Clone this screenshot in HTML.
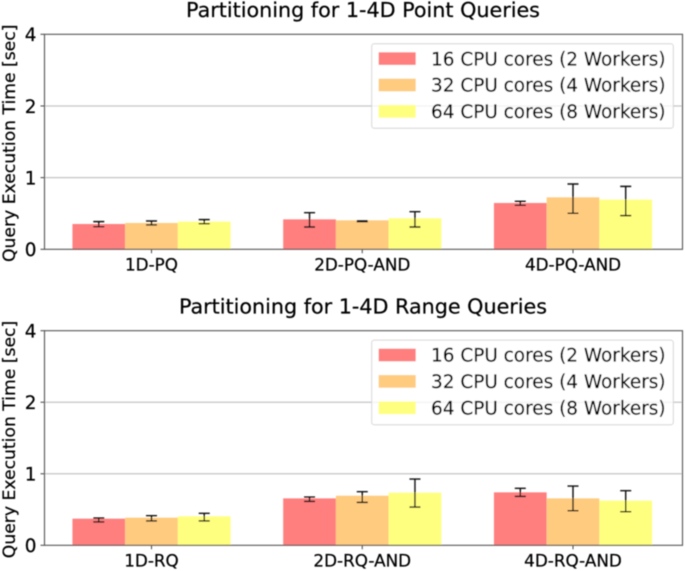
<!DOCTYPE html>
<html lang="en">
<head>
<meta charset="utf-8">
<title>Partitioning for 1-4D Queries</title>
<style>
html,body{margin:0;padding:0;background:#fff;width:685px;height:571px;overflow:hidden}
svg{display:block}
text{font-family:"DejaVu Sans","Liberation Sans",sans-serif;fill:#000;stroke:#000;stroke-width:.22}
</style>
</head>
<body>
<svg id="chart" xmlns="http://www.w3.org/2000/svg" width="685" height="571" viewBox="0 0 685 571">
<defs><filter id="soft" x="-2%" y="-2%" width="104%" height="104%"><feGaussianBlur stdDeviation="0.45"/></filter></defs>
<g id="root" filter="url(#soft)"></g>
</svg>
<script>
const seriesLabels = ["16 CPU cores (2 Workers)", "32 CPU cores (4 Workers)", "64 CPU cores (8 Workers)"];
const yTicks = [0, 1, 2, 4];

const pointTitle = "Partitioning for 1-4D Point Queries";
const pointCategories = ["1D-PQ", "2D-PQ-AND", "4D-PQ-AND"];
const pointValues16 = [0.353, 0.418, 0.646];
const pointValues32 = [0.367, 0.404, 0.725];
const pointValues64 = [0.386, 0.432, 0.693];
const pointLow16 = [0.316, 0.311, 0.614];
const pointLow32 = [0.340, 0.385, 0.502];
const pointLow64 = [0.358, 0.311, 0.470];
const pointHigh16 = [0.386, 0.511, 0.669];
const pointHigh32 = [0.395, 0.395, 0.911];
const pointHigh64 = [0.414, 0.525, 0.878];

const rangeTitle = "Partitioning for 1-4D Range Queries";
const rangeCategories = ["1D-RQ", "2D-RQ-AND", "4D-RQ-AND"];
const rangeValues16 = [0.372, 0.656, 0.740];
const rangeValues32 = [0.386, 0.693, 0.656];
const rangeValues64 = [0.405, 0.735, 0.624];
const rangeLow16 = [0.326, 0.614, 0.684];
const rangeLow32 = [0.340, 0.600, 0.484];
const rangeLow64 = [0.340, 0.535, 0.470];
const rangeHigh16 = [0.381, 0.674, 0.796];
const rangeHigh32 = [0.414, 0.750, 0.828];
const rangeHigh64 = [0.447, 0.926, 0.763];

const NS = "http://www.w3.org/2000/svg";
const root = document.getElementById("root");
const colors = ["#ff7f7f", "#ffcb7f", "#ffff7f"];
const seriesKeys = ["16-cores", "32-cores", "64-cores"];
const left = 44.5, right = 682.5;
const firstCenter = 151.5, groupStep = 210.75, barW = 52.7;

function make(parent, tag, attrs, text) {
  const el = document.createElementNS(NS, tag);
  for (const k in attrs) el.setAttribute(k, attrs[k]);
  if (text !== undefined) el.textContent = text;
  parent.appendChild(el);
  return el;
}

function drawPanel(p) {
  const unit = (p.bottom - p.top) / 3;
  const y = v => v <= 1 ? p.bottom - v * unit : p.bottom - (1 + Math.log2(v)) * unit;
  const x = (g, s) => firstCenter + g * groupStep + (s - 1) * barW;

  const panel = make(root, "g", {});
  
  

  const title = make(panel, "text", {x: p.titleX, y: p.titleY, "text-anchor": "middle", "font-size": 20.7}, p.title);
  
  

  yTicks.forEach(t => {
    if (t === 1 || t === 2) {
      const grid = make(panel, "line", {x1: left, x2: right, y1: y(t), y2: y(t), stroke: "#c4c4c4", "stroke-width": 1.2});
      
      
    }
    const tick = make(panel, "line", {x1: left - 4, x2: left, y1: y(t), y2: y(t), stroke: "#444", "stroke-width": 1});
    
    
    const label = make(panel, "text", {x: 36.5, y: y(t) + 6.8, "text-anchor": "end", "font-size": 18.4}, String(t));
    
    
  });

  p.categories.forEach((c, g) => {
    p.values.forEach((vals, s) => {
      const bar = make(panel, "rect", {x: x(g, s) - barW / 2, y: y(vals[g]), width: barW, height: p.bottom - y(vals[g]), fill: colors[s]});
      
      
    });
  });

  p.categories.forEach((c, g) => {
    p.values.forEach((vals, s) => {
      const cx = x(g, s), lo = y(p.low[s][g]), hi = y(p.high[s][g]);
      const err = make(panel, "path", {
        d: "M" + (cx - 5.5) + " " + hi + "H" + (cx + 5.5) + "M" + cx + " " + hi + "V" + lo + "M" + (cx - 5.5) + " " + lo + "H" + (cx + 5.5),
        fill: "none", stroke: "#111", "stroke-width": 1.4
      });
      
      
    });
    const cx = firstCenter + g * groupStep;
    const tick = make(panel, "line", {x1: cx, x2: cx, y1: p.bottom, y2: p.bottom + 4, stroke: "#444", "stroke-width": 1});
    
    
    const label = make(panel, "text", {x: cx, y: p.bottom + 21.4, "text-anchor": "middle", "font-size": 16.8}, c);
    
    
  });

  const frame = make(panel, "rect", {x: left, y: p.top, width: right - left, height: p.bottom - p.top, fill: "none", stroke: "#555", "stroke-width": 1.1});
  
  

  const ylab = make(panel, "text", {transform: "translate(15 " + ((p.top + p.bottom) / 2 + 1.5) + ") rotate(-90)", "text-anchor": "middle", "font-size": 17.2}, "Query Execution Time [sec]");
  
  

  const legend = make(panel, "g", {});
  
  
  const box = make(legend, "rect", {x: 371.7, y: p.top + 9.4, width: 301.6, height: 84.6, rx: 2.5, fill: "#fff", "fill-opacity": 0.8, stroke: "#d6d6d6", "stroke-width": 1});
  
  
  seriesLabels.forEach((name, s) => {
    const py = p.top + 18 + s * 26.4;
    const swatch = make(legend, "rect", {x: 378.7, y: py, width: 37, height: 12.6, fill: colors[s]});
    
    
    const txt = make(legend, "text", {x: 431, y: py + 13, "font-size": 18.45}, name);
    
    
  });
}

drawPanel({
  key: "point", title: pointTitle, titleX: 363, titleY: 17, top: 34.3, bottom: 249.3,
  categories: pointCategories,
  values: [pointValues16, pointValues32, pointValues64],
  low: [pointLow16, pointLow32, pointLow64],
  high: [pointHigh16, pointHigh32, pointHigh64]
});
drawPanel({
  key: "range", title: rangeTitle, titleX: 363, titleY: 313.3, top: 330.7, bottom: 545.3,
  categories: rangeCategories,
  values: [rangeValues16, rangeValues32, rangeValues64],
  low: [rangeLow16, rangeLow32, rangeLow64],
  high: [rangeHigh16, rangeHigh32, rangeHigh64]
});
</script>
</body>
</html>
